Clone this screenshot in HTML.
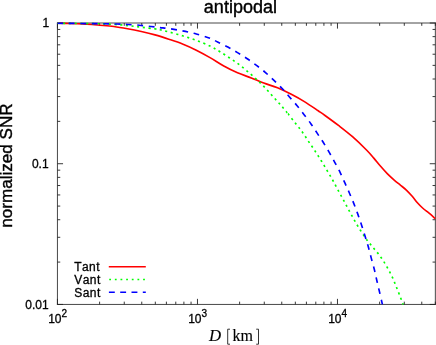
<!DOCTYPE html>
<html><head><meta charset="utf-8"><title>antipodal</title>
<style>
html,body{margin:0;padding:0;background:#fff;}
body{width:436px;height:345px;overflow:hidden;}
svg{display:block;will-change:transform;}
text{font-family:"Liberation Sans",sans-serif;fill:#000;stroke:#000;stroke-width:0.3px;}
.big{stroke-width:0.4px;}
.ser{stroke-width:0.15px;}
.ser{font-family:"Liberation Serif",serif;}
</style></head><body>
<svg width="436" height="345" viewBox="0 0 436 345">
<defs><clipPath id="ga"><rect x="0" y="0" width="287.60" height="345"/></clipPath><clipPath id="gb"><rect x="287.60" y="0" width="152.05" height="345"/></clipPath><clipPath id="c"><rect x="57.45" y="23.00" width="377.90" height="281.45"/></clipPath></defs>
<!-- axes -->
<path d="M57.45 23.00V304.45M435.35 23.00V304.45M57.45 23.00H435.35M57.45 304.45H435.35" fill="none" stroke="#333" stroke-width="0.9" stroke-linecap="square"/>
<path d="M57.45 304.45V298.85M57.45 23.00V28.60M99.60 304.45V301.65M99.60 23.00V25.80M124.25 304.45V301.65M124.25 23.00V25.80M141.75 304.45V301.65M141.75 23.00V25.80M155.32 304.45V301.65M155.32 23.00V25.80M166.40 304.45V301.65M166.40 23.00V25.80M175.78 304.45V301.65M175.78 23.00V25.80M183.90 304.45V301.65M183.90 23.00V25.80M191.06 304.45V301.65M191.06 23.00V25.80M197.47 304.45V298.85M197.47 23.00V28.60M239.62 304.45V301.65M239.62 23.00V25.80M264.27 304.45V301.65M264.27 23.00V25.80M281.76 304.45V301.65M281.76 23.00V25.80M295.33 304.45V301.65M295.33 23.00V25.80M306.42 304.45V301.65M306.42 23.00V25.80M315.79 304.45V301.65M315.79 23.00V25.80M323.91 304.45V301.65M323.91 23.00V25.80M331.08 304.45V301.65M331.08 23.00V25.80M337.48 304.45V298.85M337.48 23.00V28.60M379.63 304.45V301.65M379.63 23.00V25.80M404.29 304.45V301.65M404.29 23.00V25.80M421.78 304.45V301.65M421.78 23.00V25.80M435.35 304.45V301.65M435.35 23.00V25.80M57.45 304.45H63.05M435.35 304.45H429.75M57.45 262.09H60.25M435.35 262.09H432.55M57.45 237.31H60.25M435.35 237.31H432.55M57.45 219.73H60.25M435.35 219.73H432.55M57.45 206.09H60.25M435.35 206.09H432.55M57.45 194.94H60.25M435.35 194.94H432.55M57.45 185.52H60.25M435.35 185.52H432.55M57.45 177.36H60.25M435.35 177.36H432.55M57.45 170.16H60.25M435.35 170.16H432.55M57.45 163.72H63.05M435.35 163.72H429.75M57.45 121.36H60.25M435.35 121.36H432.55M57.45 96.58H60.25M435.35 96.58H432.55M57.45 79.00H60.25M435.35 79.00H432.55M57.45 65.36H60.25M435.35 65.36H432.55M57.45 54.22H60.25M435.35 54.22H432.55M57.45 44.80H60.25M435.35 44.80H432.55M57.45 36.64H60.25M435.35 36.64H432.55M57.45 29.44H60.25M435.35 29.44H432.55M57.45 23.00H63.05M435.35 23.00H429.75" stroke="#222" stroke-width="0.9" fill="none"/>
<!-- curves -->
<g fill="none" stroke-width="1.65" stroke-linejoin="round">
<path d="M57.50 23.30 C59.58 23.33 65.83 23.40 70.00 23.50 C74.17 23.60 78.83 23.73 82.50 23.90 C86.17 24.07 89.08 24.28 92.00 24.50 C94.92 24.72 96.37 24.87 100.00 25.20 C103.63 25.53 109.22 25.92 113.80 26.50 C118.38 27.08 122.92 27.87 127.50 28.70 C132.08 29.53 136.72 30.47 141.30 31.50 C145.88 32.53 150.42 33.62 155.00 34.90 C159.58 36.18 164.22 37.68 168.80 39.20 C173.38 40.72 177.92 42.17 182.50 44.00 C187.08 45.83 191.72 47.93 196.30 50.20 C200.88 52.47 205.42 54.97 210.00 57.60 C214.58 60.23 219.22 63.47 223.80 66.00 C228.38 68.53 232.92 70.82 237.50 72.80 C242.08 74.78 246.92 76.18 251.30 77.90 C255.68 79.62 259.43 81.45 263.80 83.10 C268.17 84.75 272.92 85.93 277.50 87.80 C282.08 89.67 286.82 92.00 291.30 94.30 C295.78 96.60 299.92 98.85 304.40 101.60 C308.88 104.35 314.77 108.48 318.20 110.80 C321.63 113.12 321.57 113.02 325.00 115.50 C328.43 117.98 334.22 122.17 338.80 125.70 C343.38 129.23 347.88 132.65 352.50 136.70 C357.12 140.75 362.95 146.43 366.50 150.00 C370.05 153.57 371.45 155.38 373.80 158.10 C376.15 160.82 378.32 163.67 380.60 166.30 C382.88 168.93 385.23 171.60 387.50 173.90 C389.77 176.20 392.02 178.20 394.20 180.10 C396.38 182.00 398.53 183.60 400.60 185.30 C402.67 187.00 404.67 188.47 406.60 190.30 C408.53 192.13 410.40 194.22 412.20 196.30 C414.00 198.38 415.67 200.85 417.40 202.80 C419.13 204.75 420.65 206.27 422.60 208.00 C424.55 209.73 426.98 211.42 429.10 213.20 C431.22 214.98 434.27 217.78 435.30 218.70" stroke="#ff0000"/>
<path d="M57.50 23.30 C62.92 23.35 82.08 23.48 90.00 23.60 C97.92 23.72 99.90 23.78 105.00 24.00 C110.10 24.22 116.17 24.57 120.60 24.90 C125.03 25.23 127.92 25.58 131.60 26.00 C135.28 26.42 138.90 26.93 142.70 27.40 C146.50 27.87 151.52 28.40 154.40 28.80 C157.28 29.20 157.60 29.28 160.00 29.80 C162.40 30.32 165.05 30.90 168.80 31.90 C172.55 32.90 177.92 34.40 182.50 35.80 C187.08 37.20 191.72 38.58 196.30 40.30 C200.88 42.02 206.12 44.23 210.00 46.10 C213.88 47.97 216.38 49.57 219.60 51.50 C222.82 53.43 226.13 55.58 229.30 57.70 C232.47 59.82 235.58 61.93 238.60 64.20 C241.62 66.47 244.52 68.87 247.40 71.30 C250.28 73.73 253.17 76.28 255.90 78.80 C258.63 81.32 261.18 83.70 263.80 86.40 C266.42 89.10 269.02 92.15 271.60 95.00 C274.18 97.85 276.77 100.63 279.30 103.50 C281.83 106.37 284.07 108.85 286.80 112.20 C289.53 115.55 293.07 120.23 295.70 123.60 C298.33 126.97 300.38 129.32 302.60 132.40 C304.82 135.48 306.87 138.90 309.00 142.10 C311.13 145.30 313.33 148.45 315.40 151.60 C317.47 154.75 319.42 157.78 321.40 161.00 C323.38 164.22 325.38 167.65 327.30 170.90 C329.22 174.15 331.07 177.22 332.90 180.50 C334.73 183.78 336.48 187.25 338.30 190.60 C340.12 193.95 342.00 197.27 343.80 200.60 C345.60 203.93 347.30 207.27 349.10 210.60 C350.90 213.93 352.72 217.32 354.60 220.60 C356.48 223.88 358.35 227.08 360.40 230.30 C362.45 233.52 364.65 236.87 366.90 239.90 C369.15 242.93 371.57 245.62 373.90 248.50 C376.23 251.38 378.73 254.15 380.90 257.20 C383.07 260.25 385.02 263.52 386.90 266.80 C388.78 270.08 390.60 273.47 392.20 276.90 C393.80 280.33 395.08 283.88 396.50 287.40 C397.92 290.92 399.62 295.17 400.70 298.00 C401.78 300.83 402.62 303.33 403.00 304.40" stroke="#00ff00" stroke-dasharray="2.1 3.6" clip-path="url(#ga)"/>
<path d="M57.50 23.30 C62.92 23.35 82.08 23.48 90.00 23.60 C97.92 23.72 99.90 23.78 105.00 24.00 C110.10 24.22 116.17 24.57 120.60 24.90 C125.03 25.23 127.92 25.58 131.60 26.00 C135.28 26.42 138.90 26.93 142.70 27.40 C146.50 27.87 151.52 28.40 154.40 28.80 C157.28 29.20 157.60 29.28 160.00 29.80 C162.40 30.32 165.05 30.90 168.80 31.90 C172.55 32.90 177.92 34.40 182.50 35.80 C187.08 37.20 191.72 38.58 196.30 40.30 C200.88 42.02 206.12 44.23 210.00 46.10 C213.88 47.97 216.38 49.57 219.60 51.50 C222.82 53.43 226.13 55.58 229.30 57.70 C232.47 59.82 235.58 61.93 238.60 64.20 C241.62 66.47 244.52 68.87 247.40 71.30 C250.28 73.73 253.17 76.28 255.90 78.80 C258.63 81.32 261.18 83.70 263.80 86.40 C266.42 89.10 269.02 92.15 271.60 95.00 C274.18 97.85 276.77 100.63 279.30 103.50 C281.83 106.37 284.07 108.85 286.80 112.20 C289.53 115.55 293.07 120.23 295.70 123.60 C298.33 126.97 300.38 129.32 302.60 132.40 C304.82 135.48 306.87 138.90 309.00 142.10 C311.13 145.30 313.33 148.45 315.40 151.60 C317.47 154.75 319.42 157.78 321.40 161.00 C323.38 164.22 325.38 167.65 327.30 170.90 C329.22 174.15 331.07 177.22 332.90 180.50 C334.73 183.78 336.48 187.25 338.30 190.60 C340.12 193.95 342.00 197.27 343.80 200.60 C345.60 203.93 347.30 207.27 349.10 210.60 C350.90 213.93 352.72 217.32 354.60 220.60 C356.48 223.88 358.35 227.08 360.40 230.30 C362.45 233.52 364.65 236.87 366.90 239.90 C369.15 242.93 371.57 245.62 373.90 248.50 C376.23 251.38 378.73 254.15 380.90 257.20 C383.07 260.25 385.02 263.52 386.90 266.80 C388.78 270.08 390.60 273.47 392.20 276.90 C393.80 280.33 395.08 283.88 396.50 287.40 C397.92 290.92 399.62 295.17 400.70 298.00 C401.78 300.83 402.62 303.33 403.00 304.40" stroke="#00ff00" stroke-dasharray="2.1 3.6" stroke-dashoffset="2.77" clip-path="url(#gb)"/>
<path d="M57.50 23.30 C64.58 23.37 90.17 23.57 100.00 23.70 C109.83 23.82 111.92 23.92 116.50 24.05 C121.08 24.18 123.72 24.31 127.50 24.50 C131.28 24.69 135.30 24.87 139.20 25.20 C143.10 25.53 147.43 26.10 150.90 26.50 C154.37 26.90 157.02 27.25 160.00 27.60 C162.98 27.95 165.05 28.05 168.80 28.60 C172.55 29.15 177.92 30.00 182.50 30.90 C187.08 31.80 191.72 32.78 196.30 34.00 C200.88 35.22 206.45 36.87 210.00 38.20 C213.55 39.53 214.62 40.52 217.60 42.00 C220.58 43.48 224.58 45.33 227.90 47.10 C231.22 48.87 234.28 50.67 237.50 52.60 C240.72 54.53 244.03 56.57 247.20 58.70 C250.37 60.83 253.50 63.13 256.50 65.40 C259.50 67.67 262.33 69.83 265.20 72.30 C268.07 74.77 270.92 77.55 273.70 80.20 C276.48 82.85 279.27 85.40 281.90 88.20 C284.53 91.00 286.97 94.08 289.50 97.00 C292.03 99.92 294.67 102.75 297.10 105.70 C299.53 108.65 301.78 111.67 304.10 114.70 C306.42 117.73 308.80 120.78 311.00 123.90 C313.20 127.02 315.22 130.25 317.30 133.40 C319.38 136.55 321.48 139.58 323.50 142.80 C325.52 146.02 327.50 149.40 329.40 152.70 C331.30 156.00 333.10 159.28 334.90 162.60 C336.70 165.92 338.52 169.17 340.20 172.60 C341.88 176.03 343.43 179.72 345.00 183.20 C346.57 186.68 348.11 190.05 349.60 193.50 C351.09 196.95 352.57 200.42 353.95 203.90 C355.33 207.38 356.62 210.85 357.90 214.40 C359.17 217.95 360.42 221.60 361.60 225.20 C362.78 228.80 363.92 232.53 365.00 236.00 C366.08 239.47 367.07 242.35 368.10 246.00 C369.13 249.65 370.15 253.95 371.20 257.90 C372.25 261.85 373.48 266.02 374.40 269.70 C375.32 273.38 375.88 276.45 376.70 280.00 C377.52 283.55 378.35 286.93 379.30 291.00 C380.25 295.07 381.88 302.17 382.40 304.40" stroke="#0000ff" stroke-dasharray="5.75 5.65"/>
</g>
<!-- legend -->
<g fill="none" stroke-width="1.55">
<path d="M108.8 266.7H145.8" stroke="#ff0000"/>
<path d="M109.2 279.45H145.8" stroke="#00ff00" stroke-dasharray="1.8 3.85"/>
<path d="M108.9 292.3H145.8" stroke="#0000ff" stroke-dasharray="5.9 5.4"/>
</g>
<g font-size="12" style="font-kerning:none;letter-spacing:0.45px">
<text x="74.2" y="270.7">Tant</text>
<text x="74.2" y="283.7">Vant</text>
<text x="74.2" y="296.7">Sant</text>
</g>
<!-- tick labels -->
<g font-size="12" text-anchor="end">
<text x="49.2" y="27.2">1</text>
<text x="48.6" y="163.72" dy="4.3">0.1</text>
<text x="48.6" y="308.6">0.01</text>
</g>
<g font-size="12">
<text x="48.2" y="322.8">10<tspan font-size="10" dy="-6">2</tspan></text>
<text x="188.2" y="322.8">10<tspan font-size="10" dy="-6">3</tspan></text>
<text x="328.2" y="322.8">10<tspan font-size="10" dy="-6">4</tspan></text>
</g>
<!-- title -->
<text class="big" x="240.4" y="13.3" font-size="18" text-anchor="middle">antipodal</text>
<!-- ylabel -->
<text class="big" transform="translate(11.9,165.6) rotate(-90)" font-size="17.1" text-anchor="middle">normalized SNR</text>
<!-- xlabel -->
<g class="ser" font-size="16">
<text class="ser" x="209.0" y="341.2" font-size="16.8" font-style="italic">D</text>
<text class="ser" x="232.5" y="341.1">km</text>
<path d="M230.0 329.2H227.7V344.2H230.0M256.2 329.2H258.5V344.2H256.2" fill="none" stroke="#111" stroke-width="0.85"/>
</g>
</svg>
</body></html>
